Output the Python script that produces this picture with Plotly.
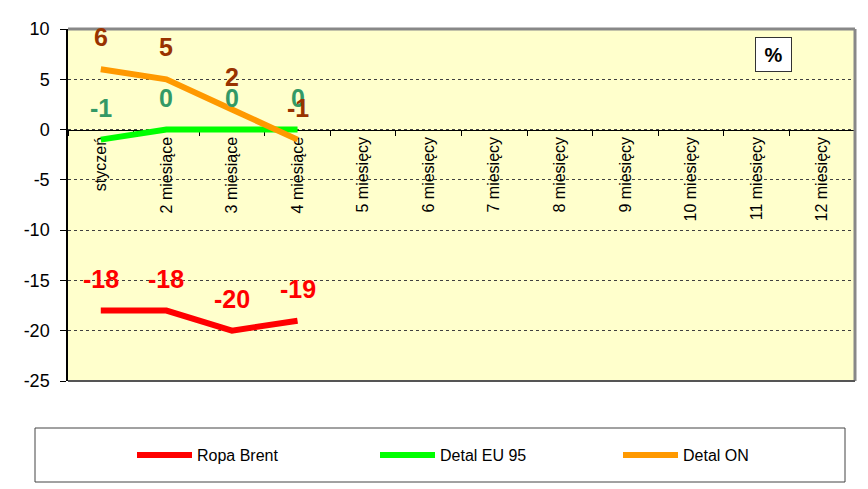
import plotly.graph_objects as go

categories = ["styczeń", "2 miesiące", "3 miesiące", "4 miesiące", "5 miesięcy", "6 miesięcy",
              "7 miesięcy", "8 miesięcy", "9 miesięcy", "10 miesięcy", "11 miesięcy", "12 miesięcy"]
ropa_brent = [-18, -18, -20, -19]
detal_eu95 = [-1, 0, 0, 0]
detal_on = [6, 5, 2, -1]
y_ticks = [-25, -20, -15, -10, -5, 0, 5, 10]
y_tick_text = ["-25", "-20", "-15", "-10", "-5", "0", "5", "10"]

series = [
    ("Ropa Brent", ropa_brent, "#FF0000", "#FF0000"),
    ("Detal EU 95", detal_eu95, "#00FF00", "#339966"),
    ("Detal ON", detal_on, "#FF9900", "#993300"),
]

# page body has an 8px margin: work in screen pixels, convert to figure pixels
OFF = 8
W, H = 868 - OFF, 489 - OFF
SL, SR, ST, SB = 68, 855, 29, 381          # plot area in screen pixels
L, R, T, B = SL - OFF, SR - OFF, ST - OFF, SB - OFF
pw, ph = R - L, B - T
def px(sx): return (sx - OFF - L) / pw
def py(sy): return (B - (sy - OFF)) / ph

fig = go.Figure()
annotations = []
for name, vals, col, lcol in series:
    xs = categories[:len(vals)]
    fig.add_trace(go.Scatter(x=xs, y=vals, mode="lines", name=name,
                             line=dict(color=col, width=6), hoverinfo="skip"))
    for x, v in zip(xs, vals):
        annotations.append(dict(x=x, y=v, xref="x", yref="y", text=str(v), showarrow=False,
                                yshift=32, yanchor="middle",
                                font=dict(family="Arial", size=25, color=lcol, weight="bold")))

annotations.append(dict(x=px(773), y=py(54), xref="paper", yref="paper", text="<b>%</b>",
                        xanchor="center", yanchor="middle",
                        showarrow=False, font=dict(family="Arial", size=20, color="black"),
                        bgcolor="white", bordercolor="#333333", borderwidth=1,
                        borderpad=4, width=27, height=25))

shapes = [
    # outer left border
    dict(type="line", xref="paper", yref="paper", x0=px(7), x1=px(7), y0=py(-5), y1=py(495),
         line=dict(color="black", width=1)),
    # plot area frame (gray top/right)
    dict(type="line", xref="paper", yref="paper", x0=0, x1=1, y0=1, y1=1,
         line=dict(color="#888888", width=3)),
    dict(type="line", xref="paper", yref="paper", x0=1, x1=1, y0=0, y1=1,
         line=dict(color="#888888", width=3)),
    dict(type="line", xref="paper", yref="paper", x0=0, x1=1, y0=0, y1=0,
         line=dict(color="#555555", width=2)),
    # legend box
    dict(type="rect", xref="paper", yref="paper", x0=px(35), x1=px(845), y0=py(482), y1=py(428),
         line=dict(color="#444444", width=1), fillcolor="white", layer="below"),
]

fig.update_layout(
    width=W, height=H,
    margin=dict(l=L, r=W - R, t=T, b=H - B, autoexpand=False),
    paper_bgcolor="white", plot_bgcolor="#FFFFCC",
    font=dict(family="Arial", color="black"),
    showlegend=True,
    legend=dict(orientation="h", x=px(132), y=py(455), xanchor="left", yanchor="middle",
                font=dict(family="Arial", size=16, color="black"),
                entrywidth=173, entrywidthmode="pixels", itemwidth=55,
                bgcolor="rgba(0,0,0,0)", borderwidth=0),
    xaxis=dict(type="category", categoryorder="array", categoryarray=categories,
               range=[-0.5, 11.5], anchor="free", position=25 / 35,
               tickson="boundaries", ticks="outside", ticklen=5, tickcolor="black",
               showline=True, linecolor="black", linewidth=1, showgrid=False,
               tickangle=-90, tickfont=dict(family="Arial", size=16, color="black"),
               layer="below traces", fixedrange=True),
    yaxis=dict(range=[-25, 10], tickvals=y_ticks, ticktext=y_tick_text,
               ticks="outside", ticklen=6, tickcolor="black", ticklabelstandoff=7,
               showline=True, linecolor="black", linewidth=1.5,
               showgrid=True, gridcolor="#404040", griddash="dot", gridwidth=1,
               zeroline=False, tickfont=dict(family="Arial", size=18, color="black"),
               layer="below traces", fixedrange=True),
    annotations=annotations,
    shapes=shapes,
)

fig.write_html("out.html")
